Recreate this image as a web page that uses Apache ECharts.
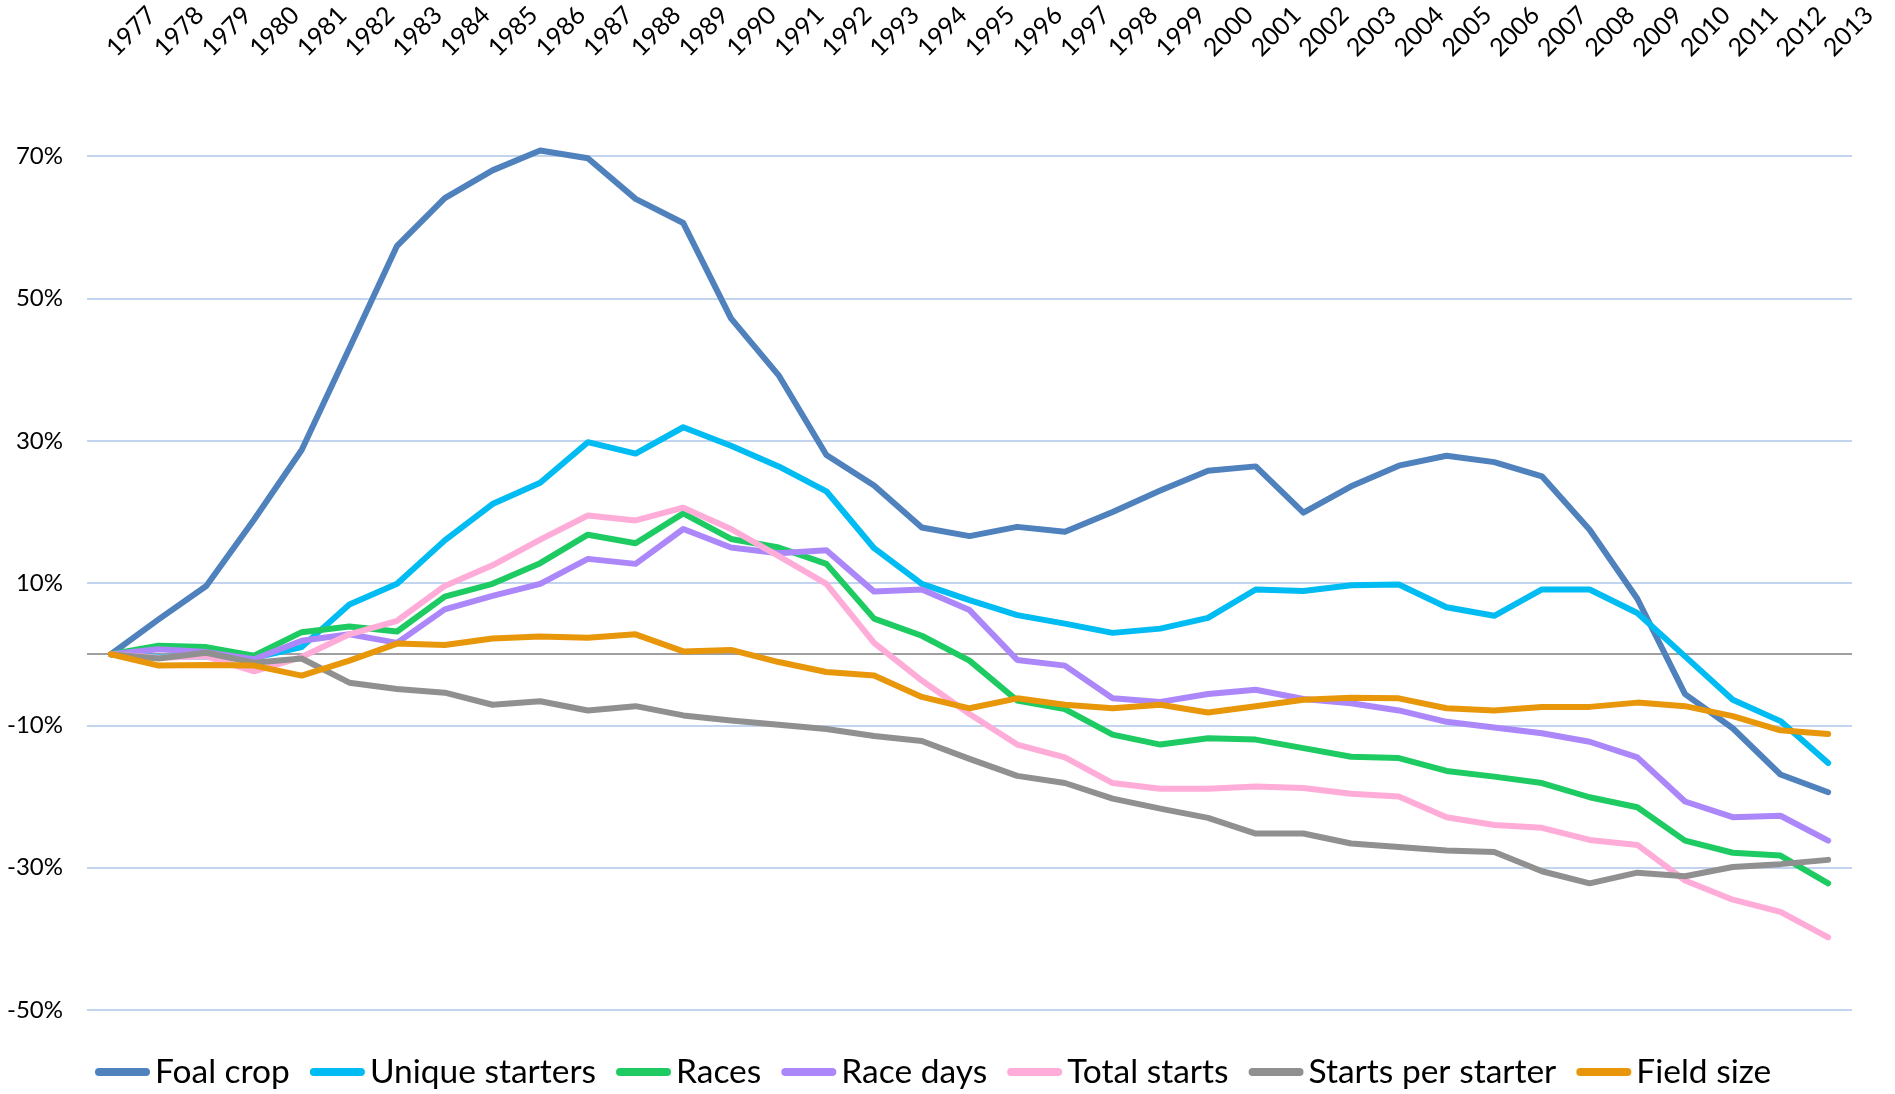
<!DOCTYPE html>
<html>
<head>
<meta charset="utf-8">
<script src="https://cdn.jsdelivr.net/npm/echarts@6/dist/echarts.min.js"></script>
<style>
html,body{margin:0;padding:0;background:#fff;}
#chart{width:1895px;height:1094px;}
</style>
</head>
<body>
<div id="chart"></div>
<script>
const years = ['1977','1978','1979','1980','1981','1982','1983','1984','1985','1986','1987','1988','1989','1990','1991','1992','1993','1994','1995','1996','1997','1998','1999','2000','2001','2002','2003','2004','2005','2006','2007','2008','2009','2010','2011','2012','2013'];

const foalCrop = [0,4.9,9.6,18.9,28.7,43.0,57.4,64.1,68.0,70.8,69.7,64.0,60.6,47.2,39.2,28.0,23.7,17.8,16.6,17.9,17.2,20.0,23.0,25.8,26.4,19.9,23.6,26.5,27.9,27.0,25.0,17.5,7.8,-5.6,-10.4,-16.9,-19.4];
const uniqueStarters = [0,-0.4,-0.3,-0.5,1.0,7.0,9.9,16.0,21.1,24.1,29.8,28.2,31.9,29.3,26.4,22.9,14.9,9.9,7.6,5.5,4.3,3.0,3.6,5.1,9.1,8.9,9.7,9.8,6.6,5.4,9.1,9.1,5.8,-0.3,-6.4,-9.4,-15.3];
const races = [0,1.2,1.0,-0.2,3.1,3.9,3.2,8.1,9.9,12.8,16.8,15.6,19.8,16.2,15.0,12.7,5.0,2.6,-0.9,-6.5,-7.7,-11.3,-12.7,-11.8,-12.0,-13.2,-14.4,-14.6,-16.4,-17.2,-18.1,-20.1,-21.5,-26.2,-27.9,-28.3,-32.2];
const raceDays = [0,0.7,0.3,-0.7,1.9,2.8,1.6,6.3,8.2,9.9,13.4,12.7,17.6,15.0,14.2,14.6,8.8,9.1,6.2,-0.8,-1.6,-6.2,-6.7,-5.6,-5.0,-6.3,-6.9,-7.9,-9.5,-10.3,-11.1,-12.3,-14.5,-20.7,-22.9,-22.7,-26.2];
const totalStarts = [0,-0.5,-0.3,-2.4,-0.4,2.8,4.7,9.6,12.5,16.1,19.5,18.8,20.6,17.6,13.8,9.9,1.6,-3.7,-8.4,-12.7,-14.5,-18.1,-18.9,-18.9,-18.6,-18.8,-19.6,-20.0,-22.9,-24.0,-24.4,-26.1,-26.8,-31.8,-34.5,-36.2,-39.8];
const startsPerStarter = [0,-0.6,0.2,-1.2,-0.6,-4.0,-4.9,-5.4,-7.1,-6.6,-7.9,-7.3,-8.6,-9.3,-9.9,-10.5,-11.5,-12.2,-14.7,-17.1,-18.1,-20.3,-21.7,-23.0,-25.2,-25.2,-26.6,-27.1,-27.6,-27.8,-30.5,-32.2,-30.7,-31.2,-29.9,-29.5,-28.9];
const fieldSize = [0,-1.6,-1.5,-1.6,-3.0,-0.9,1.5,1.3,2.2,2.5,2.3,2.8,0.4,0.6,-1.1,-2.5,-3.0,-6.0,-7.6,-6.2,-7.1,-7.6,-7.1,-8.2,-7.3,-6.4,-6.1,-6.2,-7.6,-7.9,-7.4,-7.4,-6.8,-7.3,-8.7,-10.7,-11.2];

const seriesNames = ['Foal crop','Unique starters','Races','Race days','Total starts','Starts per starter','Field size'];
const seriesValues = [foalCrop, uniqueStarters, races, raceDays, totalStarts, startsPerStarter, fieldSize];
const seriesColors = ['#4F81BD','#00BCF2','#1ECB62','#AC87FA','#FFADD8','#909090','#E8960A'];

const yTickLabels = [-50,-30,-10,10,30,50,70];

const chart = echarts.init(document.getElementById('chart'), null, {renderer:'canvas'});

const gridBlue = '#C3D4EE';
const splitColors = [];
for (let v = -50; v <= 80; v += 10) {
  if (v === 0) splitColors.push('#A0A0A0');
  else if (yTickLabels.indexOf(v) >= 0) splitColors.push(gridBlue);
  else splitColors.push('rgba(255,255,255,0)');
}

const font = 'Lato';

chart.setOption({
  animation: false,
  backgroundColor: '#ffffff',
  grid: {left: 87, right: 43, top: 85, bottom: 84, containLabel: false, outerBoundsMode: 'none'},
  legend: {
    data: seriesNames,
    left: 90,
    top: 1050,
    itemWidth: 55,
    itemHeight: 8,
    itemGap: 20,
    icon: 'path://M4,0 L51,0 A4,4 0 0 1 51,8 L4,8 A4,4 0 0 1 4,0 Z',
    textStyle: {fontFamily: font, fontSize: 33.5, color: '#000'}
  },
  xAxis: {
    type: 'category',
    data: years,
    position: 'top',
    boundaryGap: true,
    axisLine: {show: false, onZero: false},
    axisTick: {show: false},
    splitLine: {show: false},
    axisLabel: {
      interval: 0,
      rotate: -45,
      margin: 33,
      align: 'left',
      verticalAlign: 'middle',
      fontFamily: font,
      fontSize: 25,
      color: '#000'
    }
  },
  yAxis: {
    type: 'value',
    min: -50,
    max: 80,
    interval: 10,
    axisLine: {show: false},
    axisTick: {show: false},
    axisLabel: {
      margin: 24,
      fontFamily: font,
      fontSize: 24,
      color: '#000',
      formatter: function (v) {
        return yTickLabels.indexOf(Math.round(v)) >= 0 ? Math.round(v) + '%' : '';
      }
    },
    splitLine: {show: true, lineStyle: {color: splitColors, width: 2}}
  },
  series: seriesNames.map((name, k) => ({
    name: name,
    type: 'line',
    data: seriesValues[k],
    symbol: 'none',
    clip: false,
    color: seriesColors[k],
    lineStyle: {width: 6, color: seriesColors[k], cap: 'round', join: 'round'},
    emphasis: {disabled: true}
  }))
});
</script>
</body>
</html>
